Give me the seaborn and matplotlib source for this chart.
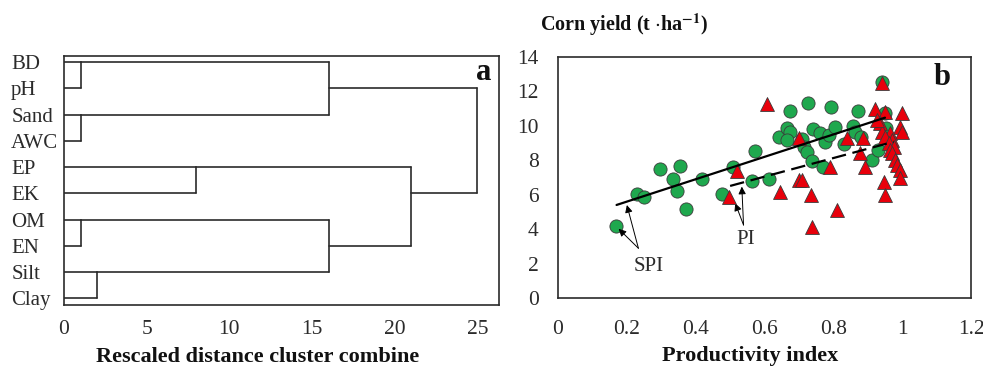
import numpy as np
import pandas as pd
import matplotlib
matplotlib.use('Agg')
import matplotlib.pyplot as plt
import seaborn as sns

# panel a - cluster tree (SPSS style, leaves top->bottom)
leaves = ['BD', 'pH', 'Sand', 'AWC', 'EP', 'EK', 'OM', 'EN', 'Silt', 'Clay']
link_left = ['BD', 'Sand', 'OM', 'Silt', 'EP', 'c0', 'c2', 'c4', 'c5']
link_right = ['pH', 'AWC', 'EN', 'Clay', 'EK', 'c1', 'c3', 'c6', 'c7']
link_dist = [1, 1, 1, 2, 8, 16, 16, 21, 25]
dist_ticks = [0, 5, 10, 15, 20, 25]

# panel b - corn yield vs productivity index
spi_x = [0.168, 0.230, 0.250, 0.296, 0.333, 0.354, 0.347, 0.372, 0.419, 0.476,
         0.507, 0.563, 0.573, 0.614, 0.641, 0.664, 0.674, 0.666, 0.675, 0.727,
         0.708, 0.716, 0.722, 0.739, 0.742, 0.762, 0.771, 0.777, 0.786, 0.793,
         0.804, 0.832, 0.858, 0.862, 0.873, 0.881, 0.912, 0.929, 0.941, 0.950,
         0.954]
spi_y = [4.17, 6.04, 5.84, 7.48, 6.93, 7.67, 6.19, 5.15, 6.89, 6.04,
         7.63, 6.80, 8.54, 6.91, 9.34, 9.88, 9.65, 9.18, 10.85, 11.30,
         9.25, 8.80, 8.48, 7.95, 9.81, 9.57, 7.63, 9.05, 9.45, 11.10,
         9.96, 8.92, 9.98, 9.67, 10.87, 9.35, 8.00, 8.60, 12.52, 10.74,
         9.90]
pi_x = [0.498, 0.521, 0.607, 0.645, 0.699, 0.699, 0.708, 0.735, 0.737, 0.789,
        0.810, 0.839, 0.878, 0.885, 0.892, 0.922, 0.941, 0.951, 0.999, 0.936,
        0.994, 0.999, 0.941, 0.965, 0.951, 0.970, 0.961, 0.975, 0.965, 0.970,
        0.980, 0.985, 0.994, 0.994, 0.946, 0.951, 0.926]
pi_y = [5.84, 7.40, 11.28, 6.18, 9.28, 6.86, 6.86, 5.99, 4.15, 7.60,
        5.12, 9.28, 8.41, 9.28, 7.60, 10.98, 12.48, 10.78, 10.74, 10.16,
        9.96, 9.67, 9.67, 9.57, 9.38, 9.19, 8.99, 8.80, 8.60, 8.41,
        8.02, 7.73, 7.44, 6.96, 6.76, 5.99, 10.35]
# fitted lines: slope, intercept, x range
spi_fit = (6.5, 4.30)
spi_range = [0.17, 0.95]
pi_fit = (5.4, 3.81)
pi_range = [0.50, 0.975]
pi_ticks = [0, 0.2, 0.4, 0.6, 0.8, 1.0, 1.2]
pi_tick_labels = ['0', '0.2', '0.4', '0.6', '0.8', '1', '1.2']
yield_ticks = [0, 2, 4, 6, 8, 10, 12, 14]

sns.set_style('white')
plt.rcParams['font.family'] = ['Liberation Serif', 'DejaVu Serif']
plt.rcParams['mathtext.fontset'] = 'stix'

ink = '#2b2b2b'
green = '#1fa84e'
red = '#e8000b'

fig = plt.figure(figsize=(9.83, 3.68), dpi=100)

# ---- panel a
ax1 = fig.add_axes([0.0651, 0.1712, 0.4425, 0.6766])
nodes = {name: (i, 0.0) for i, name in enumerate(leaves)}
for k, (l, r, d) in enumerate(zip(link_left, link_right, link_dist)):
    rl, xl = nodes[l]
    rr, xr = nodes[r]
    ax1.plot([xl, d], [rl, rl], color=ink, lw=1.2)
    ax1.plot([xr, d], [rr, rr], color=ink, lw=1.2)
    ax1.plot([d, d], [rl, rr], color=ink, lw=1.2)
    nodes['c%d' % k] = ((rl + rr) // 2, d)

ax1.set_xlim(0, 26.3)
ax1.set_ylim(9.25, -0.23)
ax1.set_xticks(dist_ticks)
ax1.set_yticks(range(len(leaves)))
ax1.set_yticklabels(leaves, ha='left')
ax1.tick_params(axis='y', length=0, pad=38, labelsize=15, colors=ink)
ax1.tick_params(axis='x', direction='out', length=3, width=1, pad=8,
                labelsize=15.5, colors=ink)
ax1.set_xlabel('Rescaled distance cluster combine', fontsize=16,
               fontweight='bold', color='#111')
ax1.xaxis.set_label_coords(0.446, -0.209)
ax1.xaxis.label.set_va('center')
ax1.text(0.965, 0.935, 'a', transform=ax1.transAxes, fontsize=22,
         fontweight='bold', ha='center', va='center', color='#111')
for s in ax1.spines.values():
    s.set_color(ink)
    s.set_linewidth(1.2)

# ---- panel b
ax2 = fig.add_axes([0.5677, 0.1902, 0.4201, 0.6549])
sns.scatterplot(x=spi_x, y=spi_y, ax=ax2, color=green, marker='o', s=90,
                edgecolor='#3a3a3a', linewidth=0.6, zorder=3)
sns.scatterplot(x=pi_x, y=pi_y, ax=ax2, color=red, marker='^', s=100,
                edgecolor='#3a3a3a', linewidth=0.6, zorder=4)

xs = np.array(spi_range)
sns.lineplot(x=xs, y=spi_fit[0] * xs + spi_fit[1], ax=ax2, color='black',
             lw=1.6, zorder=5)
xs = np.array(pi_range)
sns.lineplot(x=xs, y=pi_fit[0] * xs + pi_fit[1], ax=ax2, color='black',
             lw=1.6, linestyle=(0, (6.5, 3)), zorder=5)

arrow = dict(arrowstyle='-|>', color='black', lw=0.7, mutation_scale=11,
             shrinkA=0, shrinkB=0)
ax2.annotate('', xy=(0.176, 4.02), xytext=(0.2335, 2.89), arrowprops=arrow)
ax2.annotate('', xy=(0.200, 5.40), xytext=(0.2335, 2.89), arrowprops=arrow)
ax2.annotate('', xy=(0.515, 5.50), xytext=(0.539, 4.24), arrowprops=arrow)
ax2.annotate('', xy=(0.534, 6.47), xytext=(0.539, 4.24), arrowprops=arrow)
ax2.text(0.262, 1.81, 'SPI', ha='center', va='center', fontsize=15, color=ink)
ax2.text(0.544, 3.37, 'PI', ha='center', va='center', fontsize=15, color=ink)

ax2.set_xlim(0, 1.2)
ax2.set_ylim(0, 14)
ax2.set_xticks(pi_ticks)
ax2.set_xticklabels(pi_tick_labels)
ax2.set_yticks(yield_ticks)
ax2.tick_params(axis='x', direction='in', length=4, width=1, pad=16,
                labelsize=15.5, colors=ink)
ax2.tick_params(axis='y', direction='in', length=4, width=1, pad=14,
                labelsize=15.5, colors=ink)
ax2.set_xlabel('Productivity index', fontsize=16, fontweight='bold',
               color='#111')
ax2.xaxis.set_label_coords(0.465, -0.24)
ax2.xaxis.label.set_va('center')
ax2.set_ylabel('')
ax2.text(0.93, 0.915, 'b', transform=ax2.transAxes, fontsize=22,
         fontweight='bold', ha='center', va='center', color='#111')
fig.text(0.549, 0.932, 'Corn yield (t $\\cdot$ha$^{\\mathbf{-1}}$)',
         fontsize=14.5, fontweight='bold', ha='left', va='center', color='#111')
for s in ax2.spines.values():
    s.set_color(ink)
    s.set_linewidth(1.2)

fig.savefig('out.png', dpi=100)
